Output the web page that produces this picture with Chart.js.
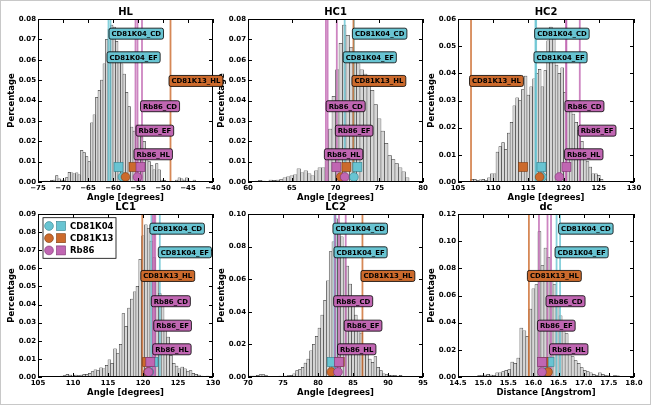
<!DOCTYPE html>
<html>
<head>
<meta charset="utf-8">
<script src="https://cdn.jsdelivr.net/npm/chart.js@4.4.0/dist/chart.umd.min.js"></script>
<style>
  html, body { margin: 0; padding: 0; background: #fff; }
  #wrap { position: relative; width: 651px; height: 405px; overflow: hidden; }
  #wrap canvas { position: absolute; }
  #frame { position: absolute; left: 0; top: 0; width: 651px; height: 405px; box-sizing: border-box; border: 1px solid #c8c8c8; z-index: 50; }
</style>
</head>
<body>
<div id="wrap">
  <canvas id="cHC1"></canvas>
  <canvas id="cHL"></canvas>
  <canvas id="cHC2"></canvas>
  <canvas id="cLC2"></canvas>
  <canvas id="cLC1"></canvas>
  <canvas id="cDC"></canvas>
  <div id="frame"></div>
</div>
<script>
/* ---------- data ---------- */
const labelNames = ["CD81K04_CD", "CD81K04_EF", "CD81K13_HL", "Rb86_CD", "Rb86_EF", "Rb86_HL"];
const labelGroup = [0, 0, 1, 2, 2, 2];
const groupNames = ["CD81K04", "CD81K13", "Rb86"];

// HL
const hlX = [-74.25,-73.75,-73.25,-72.75,-72.25,-71.75,-71.25,-70.75,-70.25,-69.75,-69.25,-68.75,-68.25,-67.75,-67.25,-66.75,-66.25,-65.75,-65.25,-64.75,-64.25,-63.75,-63.25,-62.75,-62.25,-61.75,-61.25,-60.75,-60.25,-59.75,-59.25,-58.75,-58.25,-57.75,-57.25,-56.75,-56.25,-55.75,-55.25,-54.75,-54.25,-53.75,-53.25,-52.75,-52.25,-51.75,-51.25,-50.75,-50.25,-49.75,-49.25,-48.75,-48.25,-47.75,-47.25,-46.75,-46.25,-45.75,-45.25,-44.75,-44.25,-43.75,-43.25];
const hlY = [.0003,.0005,.0005,.0003,.0008,.001,.0032,.0015,.001,.001,
  .0022,.0048,.0045,.004,.0045,.0035,.0155,.0145,.0125,.010,
  .029,.033,.0415,.045,.050,.058,.070,.075,.077,.076,
  .069,.061,.058,.053,.044,.037,.027,.025,.028,.026,
  .022,.020,.012,.010,.008,.006,.009,.006,.001,.0008,
  .0005,0,.0005,.0003,.001,.002,.0015,.001,.002,.0005,
  .0003,.001,.0003];
const hlLineX = [-60.5, -60.9, -48.5, -54.2, -55.1, -55.5];
const hlSquareX = [-58.9, -55.9, -54.5];
const hlCircleX = [-58.1, -57.5, -55.1];

// HC1
const hc1X = [61.0,61.4,61.8,62.2,62.6,63.0,63.4,63.8,64.2,64.6,65.0,65.4,65.8,66.2,66.6,67.0,67.4,67.8,68.2,68.6,69.0,69.4,69.8,70.2,70.6,71.0,71.4,71.8,72.2,72.6,73.0,73.4,73.8,74.2,74.6,75.0,75.4,75.8,76.2,76.6,77.0,77.4,77.8,78.2];
const hc1Y = [.0005,.0008,.0005,.0003,.001,.0008,.001,.0012,.002,.0025,
  .003,.0035,.0065,.0045,.0055,.004,.003,.0055,.007,.007,
  .013,.026,.042,.055,.068,.077,.072,.066,.062,.058,
  .055,.053,.049,.045,.038,.031,.025,.019,.013,.011,
  .009,.007,.005,.002];
const hc1LineX = [72.1, 71.05, 72.05, 69.1, 70.15, 68.9];
const hc1SquareX = [72.5, 71.25, 70.1];
const hc1CircleX = [72.1, 70.6, 71.05];

// HC2
const hc2X = [107.0,107.4,107.8,108.2,108.6,109.0,109.4,109.8,110.2,110.6,111.0,111.4,111.8,112.2,112.6,113.0,113.4,113.8,114.2,114.6,115.0,115.4,115.8,116.2,116.6,117.0,117.4,117.8,118.2,118.6,119.0,119.4,119.8,120.2,120.6,121.0,121.4,121.8,122.2,122.6,123.0,123.4,123.8,124.2,124.6,125.0,125.4];
const hc2Y = [.001,.001,.0005,.0008,.001,.0005,.0015,.003,.003,.011,
  .013,.0145,.012,.018,.022,.028,.031,.030,.034,.039,
  .032,.035,.038,.040,.0415,.035,.041,.052,.057,.055,
  .043,.040,.042,.033,.030,.027,.025,.022,.019,.015,
  .010,.0075,.0055,.003,.003,.0025,.001];
const hc2LineX = [116.1, 116.0, 106.85, 120.4, 122.3, 120.35];
const hc2SquareX = [116.85, 114.25, 120.4];
const hc2CircleX = [116.95, 116.6, 119.4];

// LC1
const lc1X = [108.4,108.8,109.2,109.6,110.0,110.4,110.8,111.2,111.6,112.0,112.4,112.8,113.2,113.6,114.0,114.4,114.8,115.2,115.6,116.0,116.4,116.8,117.2,117.6,118.0,118.4,118.8,119.2,119.6,120.0,120.4,120.8,121.2,121.6,122.0,122.4,122.8,123.2,123.6,124.0,124.4,124.8,125.2,125.6,126.0,126.4,126.8,127.2,127.6,128.0,128.4,128.8,129.2];
const lc1Y = [.0005,.0008,.0015,.001,.0005,.001,.0008,.001,.0015,.0015,
  .002,.003,.004,.0035,.005,.0045,.0065,.0095,.0075,.0155,
  .013,.018,.035,.028,.038,.043,.047,.050,.065,.078,
  .084,.082,.075,.066,.056,.046,.040,.030,.022,.012,
  .0075,.006,.0045,.0055,.0045,.003,.0035,.002,.0015,.001,
  .0005,.0003,.0005];
const lc1LineX = [121.2, 122.4, 119.9, 121.4, 121.75, 121.6];
const lc1SquareX = [121.5, 120.6, 121.05];
const lc1CircleX = [120.9, 120.7, 120.8];

// LC2
const lc2X = [70.2,70.6,71.0,71.4,71.8,72.2,72.6,73.0,73.4,73.8,74.2,74.6,75.0,75.4,75.8,76.2,76.6,77.0,77.4,77.8,78.2,78.6,79.0,79.4,79.8,80.2,80.6,81.0,81.4,81.8,82.2,82.6,83.0,83.4,83.8,84.2,84.6,85.0,85.4,85.8,86.2,86.6,87.0,87.4,87.8,88.2,88.6,89.0,89.4,89.8,90.2,90.6,91.0,91.4,91.8];
const lc2Y = [.0005,.0005,.0005,.001,.0015,.0015,.0008,.0003,.0003,.0002,
  .0003,.0005,.0003,.0005,.0008,.001,.002,.004,.0045,.006,
  .0085,.011,.016,.020,.025,.030,.038,.047,.059,.077,
  .083,.097,.092,.086,.075,.068,.057,.045,.038,.032,
  .027,.020,.015,.011,.009,.0125,.006,.004,.002,.0015,
  .001,.0008,.001,.0005,.001];
const lc2LineX = [82.35, 82.5, 86.35, 82.45, 83.96, 83.0];
const lc2SquareX = [81.95, 83.1, 83.0];
const lc2CircleX = [82.4, 81.9, 82.85];

// dc
const dcX = [14.62,14.68,14.74,14.80,14.86,14.92,14.98,15.04,15.10,15.16,15.22,15.28,15.34,15.40,15.46,15.52,15.58,15.64,15.70,15.76,15.82,15.88,15.94,16.00,16.06,16.12,16.18,16.24,16.30,16.36,16.42,16.48,16.54,16.60,16.66,16.72,16.78,16.84,16.90,16.96,17.02,17.08,17.14,17.20,17.26,17.32,17.38,17.44,17.50,17.56,17.62,17.68];
const dcY = [.0005,.0003,.0005,.0003,.0005,.001,.001,.0015,.002,.0015,
  .001,.003,.003,.004,.005,.0055,.011,.010,.014,.036,
  .034,.030,.050,.065,.068,.107,.082,.095,.088,.075,
  .068,.052,.045,.040,.032,.022,.015,.012,.010,.007,
  .005,.004,.003,.002,.001,.003,.002,.001,.0008,.0005,
  .001,.0008];
const dcLineX = [16.53, 16.46, 15.91, 16.28, 16.11, 16.35];
const dcSquareX = [16.32, 16.2, 16.17];
const dcCircleX = [16.25, 16.29, 16.17];

/* ---------- style ---------- */
const groupColor = ["#68c4d2", "#cc6a2c", "#c066b2"];
const groupEdge = ["#2f7f8c", "#7a3a12", "#7a2f6e"];
const labelFrac = [0.91, 0.765, 0.62, 0.465, 0.315, 0.17];
const FONT = '"DejaVu Sans", sans-serif';

function angleTick(v) {
  return v < 0 ? "\u2212" + Math.abs(v) : String(v);
}

function overlayFor(p) {
  return {
    id: "overlay",
    afterDraw(chart) {
      const ctx = chart.ctx;
      const a = chart.chartArea;
      const xs = chart.scales.x;
      const ys = chart.scales.y;

      // lines + markers, clipped to the axes
      ctx.save();
      ctx.beginPath();
      ctx.rect(a.left, a.top, a.right - a.left, a.bottom - a.top);
      ctx.clip();
      p.lineX.forEach((v, i) => {
        const px = xs.getPixelForValue(v);
        ctx.globalAlpha = 0.8;
        ctx.strokeStyle = groupColor[labelGroup[i]];
        ctx.lineWidth = 1.8;
        ctx.beginPath();
        ctx.moveTo(px, a.top);
        ctx.lineTo(px, a.bottom);
        ctx.stroke();
      });
      ctx.globalAlpha = 1;
      for (let g = 0; g < 3; g++) {
        const sx = xs.getPixelForValue(p.squareX[g]);
        const sy = a.bottom - 15;
        ctx.fillStyle = groupColor[g];
        ctx.strokeStyle = groupEdge[g];
        ctx.lineWidth = 0.6;
        ctx.fillRect(sx - 4.5, sy - 4.5, 9, 9);
        ctx.strokeRect(sx - 4.5, sy - 4.5, 9, 9);
      }
      for (let g = 0; g < 3; g++) {
        const cx = xs.getPixelForValue(p.circleX[g]);
        ctx.fillStyle = groupColor[g];
        ctx.strokeStyle = groupEdge[g];
        ctx.lineWidth = 0.6;
        ctx.beginPath();
        ctx.arc(cx, a.bottom - 5, 4.4, 0, Math.PI * 2);
        ctx.fill();
        ctx.stroke();
      }
      ctx.restore();

      // frame and inward ticks
      ctx.save();
      ctx.strokeStyle = "#000";
      ctx.lineWidth = 1;
      ctx.strokeRect(a.left + 0.5, a.top + 0.5, a.right - a.left - 1, a.bottom - a.top - 1);
      ctx.beginPath();
      xs.ticks.forEach(t => {
        const px = Math.round(xs.getPixelForValue(t.value)) + 0.5;
        ctx.moveTo(px, a.bottom); ctx.lineTo(px, a.bottom - 4);
        ctx.moveTo(px, a.top); ctx.lineTo(px, a.top + 4);
      });
      ys.ticks.forEach(t => {
        const py = Math.round(ys.getPixelForValue(t.value)) + 0.5;
        ctx.moveTo(a.left, py); ctx.lineTo(a.left + 4, py);
        ctx.moveTo(a.right, py); ctx.lineTo(a.right - 4, py);
      });
      ctx.stroke();

      // text labels
      ctx.font = "bold 6.9px " + FONT;
      ctx.textBaseline = "middle";
      ctx.textAlign = "left";
      labelNames.forEach((name, i) => {
        const bx = xs.getPixelForValue(p.lineX[i]) - 1.5;
        const cy = a.bottom - labelFrac[i] * (a.bottom - a.top);
        const w = ctx.measureText(name).width + 5;
        const h = 11;
        ctx.beginPath();
        ctx.roundRect(bx, cy - h / 2, w, h, 2);
        ctx.fillStyle = groupColor[labelGroup[i]];
        ctx.fill();
        ctx.strokeStyle = "#000";
        ctx.lineWidth = 0.8;
        ctx.stroke();
        ctx.fillStyle = "#000";
        ctx.fillText(name, bx + 2.5, cy + 0.5);
      });

      // titles
      ctx.fillStyle = "#000";
      ctx.textAlign = "center";
      ctx.font = "bold 10px " + FONT;
      ctx.fillText(p.title, (a.left + a.right) / 2, a.top - 6.5);
      ctx.font = "bold 8.5px " + FONT;
      ctx.fillText(p.xLabel, (a.left + a.right) / 2, a.bottom + 15.5);
      ctx.save();
      ctx.translate(a.left - 26.7, (a.top + a.bottom) / 2);
      ctx.rotate(-Math.PI / 2);
      ctx.fillText("Percentage", 0, 0);
      ctx.restore();

      // legend
      if (p.legend) {
        const lx = a.left + 5, ly = a.top + 3.7;
        ctx.fillStyle = "#fff";
        ctx.fillRect(lx, ly, 73, 40.6);
        ctx.strokeStyle = "#000";
        ctx.lineWidth = 0.8;
        ctx.strokeRect(lx, ly, 73, 40.6);
        ctx.textAlign = "left";
        ctx.font = "bold 8.5px " + FONT;
        groupNames.forEach((n, g) => {
          const ry = ly + 8.3 + g * 12.2;
          ctx.fillStyle = groupColor[g];
          ctx.strokeStyle = groupEdge[g];
          ctx.lineWidth = 0.6;
          ctx.beginPath();
          ctx.arc(lx + 6, ry, 4.4, 0, Math.PI * 2);
          ctx.fill();
          ctx.stroke();
          ctx.fillRect(lx + 13.5, ry - 4.5, 9, 9);
          ctx.strokeRect(lx + 13.5, ry - 4.5, 9, 9);
          ctx.fillStyle = "#000";
          ctx.fillText(n, lx + 27, ry + 0.5);
        });
      }
      ctx.restore();
    }
  };
}

function makePanel(id, p) {
  const canvas = document.getElementById(id);
  canvas.width = p.w + 38 + 14;
  canvas.height = 163 + 19 + 30;
  canvas.style.left = (p.left - 38) + "px";
  canvas.style.top = (p.top - 19) + "px";

  new Chart(canvas, {
    type: "bar",
    data: {
      datasets: [{
        data: p.binX.map((v, i) => ({ x: v, y: p.binY[i] })),
        backgroundColor: "#d6d6d6",
        borderColor: "#1a1a1a",
        borderWidth: 0.5,
        barPercentage: 1,
        categoryPercentage: 1
      }]
    },
    options: {
      responsive: false,
      animation: false,
      devicePixelRatio: 1,
      layout: { padding: { top: 19, right: 14, left: 0, bottom: 0 } },
      plugins: { legend: { display: false }, tooltip: { enabled: false }, title: { display: false } },
      scales: {
        x: {
          type: "linear",
          offset: false,
          min: p.xMin, max: p.xMax,
          grid: { display: false, drawTicks: false },
          border: { display: false },
          ticks: {
            stepSize: p.xStep, autoSkip: false, maxRotation: 0, padding: 2, color: "#000",
            font: { family: FONT, size: 7, weight: "bold" },
            callback: v => p.xDec ? v.toFixed(p.xDec) : angleTick(v)
          },
          afterFit: s => { s.height = 30; }
        },
        y: {
          min: 0, max: p.yMax,
          grid: { display: false, drawTicks: false },
          border: { display: false },
          ticks: {
            stepSize: p.yStep, autoSkip: false, padding: 2, color: "#000",
            font: { family: FONT, size: 7, weight: "bold" },
            callback: v => v.toFixed(2)
          },
          afterFit: s => { s.width = 38; }
        }
      }
    },
    plugins: [overlayFor(p)]
  });
}

makePanel("cHC1", { title: "HC1", xLabel: "Angle [degrees]", left: 248, top: 19, w: 175,
  xMin: 60, xMax: 80, xStep: 5, yMax: 0.08, yStep: 0.01,
  binX: hc1X, binY: hc1Y, lineX: hc1LineX, squareX: hc1SquareX, circleX: hc1CircleX });
makePanel("cHL", { title: "HL", xLabel: "Angle [degrees]", left: 38, top: 19, w: 175,
  xMin: -75, xMax: -40, xStep: 5, yMax: 0.08, yStep: 0.01,
  binX: hlX, binY: hlY, lineX: hlLineX, squareX: hlSquareX, circleX: hlCircleX });
makePanel("cHC2", { title: "HC2", xLabel: "Angle [degrees]", left: 458, top: 19, w: 176,
  xMin: 105, xMax: 130, xStep: 5, yMax: 0.06, yStep: 0.01,
  binX: hc2X, binY: hc2Y, lineX: hc2LineX, squareX: hc2SquareX, circleX: hc2CircleX });
makePanel("cLC2", { title: "LC2", xLabel: "Angle [degrees]", left: 248, top: 214, w: 175,
  xMin: 70, xMax: 95, xStep: 5, yMax: 0.10, yStep: 0.02,
  binX: lc2X, binY: lc2Y, lineX: lc2LineX, squareX: lc2SquareX, circleX: lc2CircleX });
makePanel("cLC1", { title: "LC1", xLabel: "Angle [degrees]", left: 38, top: 214, w: 175,
  xMin: 105, xMax: 130, xStep: 5, yMax: 0.09, yStep: 0.01, legend: true,
  binX: lc1X, binY: lc1Y, lineX: lc1LineX, squareX: lc1SquareX, circleX: lc1CircleX });
makePanel("cDC", { title: "dc", xLabel: "Distance [Angstrom]", left: 458, top: 214, w: 176,
  xMin: 14.5, xMax: 18.0, xStep: 0.5, xDec: 1, yMax: 0.12, yStep: 0.02,
  binX: dcX, binY: dcY, lineX: dcLineX, squareX: dcSquareX, circleX: dcCircleX });
</script>
</body>
</html>
